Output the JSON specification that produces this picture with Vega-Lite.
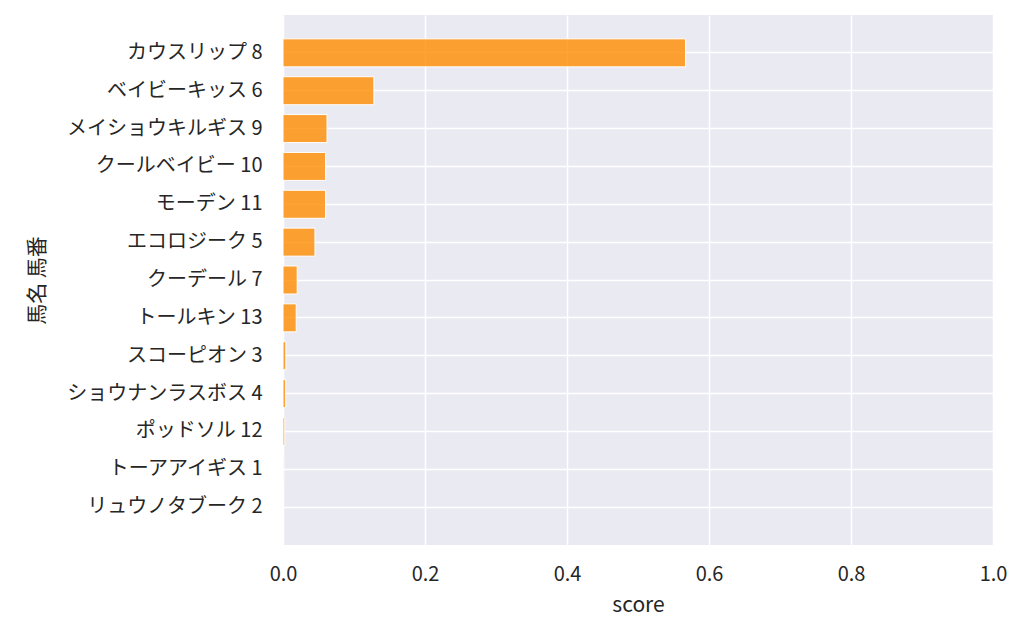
{
  "$schema": "https://vega.github.io/schema/vega-lite/v6.json",
  "autosize": {"type": "none"},
  "padding": {"left": 283, "top": 15, "right": 31, "bottom": 89},
  "width": 710,
  "height": 530,
  "background": "white",
  "config": {
    "font": "Noto Sans CJK JP",
    "view": {"fill": "#EAEAF2", "stroke": null},
    "axis": {
      "domain": false,
      "ticks": false,
      "grid": true,
      "gridColor": "white",
      "gridWidth": 1.5,
      "labelColor": "#262626",
      "titleColor": "#262626",
      "labelFont": "Noto Sans CJK JP",
      "titleFont": "Noto Sans CJK JP",
      "labelFontSize": 20,
      "labelLimit": 400,
      "titleFontSize": 21,
      "titleFontWeight": "normal"
    }
  },
  "data": {
    "values": [
      {"name": "カウスリップ 8", "score": 0.567},
      {"name": "ベイビーキッス 6", "score": 0.128},
      {"name": "メイショウキルギス 9", "score": 0.062},
      {"name": "クールベイビー 10", "score": 0.060},
      {"name": "モーデン 11", "score": 0.060},
      {"name": "エコロジーク 5", "score": 0.045},
      {"name": "クーデール 7", "score": 0.020},
      {"name": "トールキン 13", "score": 0.0186},
      {"name": "スコーピオン 3", "score": 0.004},
      {"name": "ショウナンラスボス 4", "score": 0.0038},
      {"name": "ポッドソル 12", "score": 0.0025},
      {"name": "トーアアイギス 1", "score": 0.001},
      {"name": "リュウノタブーク 2", "score": 0.0007}
    ]
  },
  "mark": {"type": "bar", "fill": "#ff8c00", "fillOpacity": 0.8, "stroke": "white", "strokeWidth": 1},
  "encoding": {
    "y": {
      "field": "name",
      "type": "nominal",
      "sort": null,
      "scale": {"paddingInner": 0.26, "paddingOuter": 0.63},
      "axis": {
        "title": "馬名 馬番",
        "grid": true,
        "bandPosition": 0.5,
        "labelPadding": 21,
        "titlePadding": 36
      }
    },
    "x": {
      "field": "score",
      "type": "quantitative",
      "scale": {"domain": [0, 1], "nice": false},
      "axis": {
        "title": "score",
        "values": [0, 0.2, 0.4, 0.6, 0.8, 1.0],
        "format": ".1f",
        "labelFlush": false,
        "labelPadding": 19,
        "titlePadding": 10
      }
    }
  }
}
